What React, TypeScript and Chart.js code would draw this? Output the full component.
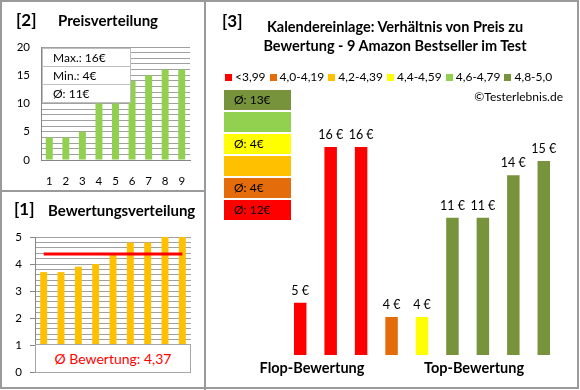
import React, { useEffect, useRef } from 'react';
import { Chart, registerables } from 'chart.js';
Chart.register(...registerables);

const FONT = 'Lato, "Noto Sans", sans-serif';
Chart.defaults.font.family = FONT;
Chart.defaults.color = '#000';

// ---- Panel [2] Preisverteilung ----
const priceCategories = ['1', '2', '3', '4', '5', '6', '7', '8', '9'];
const priceSorted = [4, 4, 5, 10, 10, 14, 15, 16, 16];
const priceTicks = [0, 5, 10, 15, 20];

// ---- Panel [1] Bewertungsverteilung ----
const ratingCategories = ['1', '2', '3', '4', '5', '6', '7', '8', '9'];
const ratings = [3.7, 3.7, 3.9, 4.0, 4.4, 4.8, 4.8, 5.0, 5.0];
const ratingTicks = [0, 1, 2, 3, 4, 5];

// ---- Panel [3] Preis vs. Bewertung ----
const products = ['P1', 'P2', 'P3', 'P4', 'P5', 'P6', 'P7', 'P8', 'P9'];
const productPrices = [5, 16, 16, 4, 4, 11, 11, 14, 15];
const productRatings = [3.7, 3.7, 3.9, 4.0, 4.4, 4.8, 4.8, 5.0, 5.0];
const binLabels = ['<3,99', '4,0-4,19', '4,2-4,39', '4,4-4,59', '4,6-4,79', '4,8-5,0'];
const binLower = [0, 4.0, 4.2, 4.4, 4.6, 4.8];
const binColors = ['#FF0000', '#E46C0A', '#FFC000', '#FFFF00', '#92D050', '#77933C'];
const groupLabels = ['Flop-Bewertung', 'Top-Bewertung'];

const binOf = (r: number) => {
  let idx = 0;
  binLower.forEach((lo, i) => { if (r >= lo - 1e-9) idx = i; });
  return idx;
};

const avgRating = ratings.reduce((a, b) => a + b, 0) / ratings.length;
const avgPrice = productPrices.reduce((a, b) => a + b, 0) / productPrices.length;
const maxPrice = Math.max(...priceSorted);
const minPrice = Math.min(...priceSorted);

const binAvg = binLabels.map((_, b) => {
  const vals = productPrices.filter((_, i) => binOf(productRatings[i]) === b);
  return vals.length ? Math.round(vals.reduce((a, c) => a + c, 0) / vals.length) : null;
});

const isInt = (v: number) => Math.abs(v - Math.round(v)) < 1e-6;

const valueLabels = {
  id: 'valueLabels',
  afterDatasetsDraw(chart: any) {
    const ctx = chart.ctx;
    const meta = chart.getDatasetMeta(0);
    ctx.save();
    ctx.font = `12.5px ${FONT}`;
    ctx.fillStyle = '#000';
    ctx.textAlign = 'center';
    ctx.textBaseline = 'alphabetic';
    meta.data.forEach((el: any, i: number) => {
      ctx.fillText(`${Math.round(productPrices[i])} €`, el.x, el.y - 8);
    });
    ctx.restore();
  },
};

const abs = (extra: React.CSSProperties): React.CSSProperties => ({
  position: 'absolute',
  whiteSpace: 'nowrap',
  fontFamily: FONT,
  color: '#000',
  ...extra,
});

export default function App() {
  const c1 = useRef<HTMLCanvasElement>(null);
  const c2 = useRef<HTMLCanvasElement>(null);
  const c3 = useRef<HTMLCanvasElement>(null);

  useEffect(() => {
    const grid = '#A0A0A0';
    const axis = '#868686';
    const chart2 = new Chart(c2.current!, {
      type: 'bar',
      data: {
        labels: priceCategories,
        datasets: [{ data: priceSorted, backgroundColor: '#92D050', categoryPercentage: 1, barPercentage: 0.42 }],
      },
      options: {
        responsive: false,
        animation: false,
        events: [],
        layout: { padding: { left: 0, top: 47, right: 390, bottom: 200 } },
        plugins: { legend: { display: false }, tooltip: { enabled: false } },
        scales: {
          x: {
            grid: { display: false, drawTicks: false },
            border: { color: axis },
            ticks: { padding: 14, font: { size: 11.5 } },
            afterFit: (s: any) => { s.height = 30; },
          },
          y: {
            min: 0,
            max: 20,
            ticks: {
              stepSize: 1,
              autoSkip: false,
              padding: 11,
              font: { size: 11.5 },
              callback: (v: any) => (priceTicks.includes(Number(v)) ? String(v) : ''),
            },
            grid: { color: grid, drawTicks: false },
            border: { color: axis },
            afterFit: (s: any) => { s.width = 41; },
          },
        },
      },
    } as any);

    const chart1 = new Chart(c1.current!, {
      type: 'bar',
      data: {
        labels: ratingCategories,
        datasets: [
          {
            type: 'line',
            data: ratings.map(() => avgRating),
            borderColor: '#FF0000',
            borderWidth: 3,
            pointRadius: 0,
            order: 0,
          },
          {
            type: 'bar',
            data: ratings,
            backgroundColor: '#FFC000',
            categoryPercentage: 1,
            barPercentage: 0.4,
            order: 1,
          },
        ],
      },
      options: {
        responsive: false,
        animation: false,
        events: [],
        layout: { padding: { left: 0, top: 237, right: 389, bottom: 18 } },
        plugins: { legend: { display: false }, tooltip: { enabled: false } },
        scales: {
          x: { display: false },
          y: {
            min: 0,
            max: 5,
            ticks: {
              stepSize: 0.2,
              autoSkip: false,
              padding: 8,
              font: { size: 11.5 },
              callback: (v: any) => (isInt(Number(v)) && ratingTicks.includes(Math.round(Number(v))) ? String(Math.round(Number(v))) : ''),
            },
            grid: {
              color: grid,
              drawTicks: true,
              tickLength: 5,
              tickColor: (ctx: any) => (ctx.tick && isInt(ctx.tick.value) ? axis : 'rgba(0,0,0,0)'),
            },
            border: { color: axis },
            afterFit: (s: any) => { s.width = 35; },
          },
        },
      },
    } as any);

    const chart3 = new Chart(c3.current!, {
      type: 'bar',
      data: {
        labels: products,
        datasets: [
          {
            data: productPrices,
            backgroundColor: productRatings.map((r) => binColors[binOf(r)]),
            categoryPercentage: 1,
            barPercentage: 0.41,
          },
        ],
      },
      options: {
        responsive: false,
        animation: false,
        events: [],
        layout: { padding: { left: 285, top: 120, right: 21, bottom: 35 } },
        plugins: { legend: { display: false }, tooltip: { enabled: false } },
        scales: {
          x: { display: false },
          y: { display: false, min: 1.32, max: 17.9 },
        },
      },
      plugins: [valueLabels],
    } as any);

    return () => {
      chart1.destroy();
      chart2.destroy();
      chart3.destroy();
    };
  }, []);

  const canvasStyle: React.CSSProperties = { position: 'absolute', left: 0, top: 0, width: 580, height: 390 };
  const line = '#9A9A9A';
  const boxOrder = [5, 4, 3, 2, 1, 0];

  return (
    <div style={{ position: 'absolute', left: 0, top: 0, width: 580, height: 390, background: '#fff', overflow: 'hidden' }}>
      <canvas ref={c2} width={580} height={390} style={canvasStyle} />
      <canvas ref={c1} width={580} height={390} style={canvasStyle} />
      <canvas ref={c3} width={580} height={390} style={canvasStyle} />

      {/* frame */}
      <div style={{ position: 'absolute', left: 0, top: 0, width: 579, height: 389, border: `2px solid ${line}`, boxSizing: 'border-box' }} />
      <div style={{ position: 'absolute', left: 204, top: 0, width: 2, height: 390, background: line }} />
      <div style={{ position: 'absolute', left: 0, top: 190, width: 205, height: 2, background: line }} />

      {/* panel 2 */}
      <div style={abs({ left: 16, top: 11, fontSize: 17, fontWeight: 700, lineHeight: '18px' })}>[2]</div>
      <div style={abs({ left: 58, top: 12, fontSize: 15, fontWeight: 700, lineHeight: '16px' })}>Preisverteilung</div>
      <div style={{ position: 'absolute', left: 42, top: 48, width: 89, height: 55, border: '1px solid #BFBFBF', background: '#fff', boxSizing: 'border-box' }}>
        {[`Max.: ${maxPrice}€`, `Min.: ${minPrice}€`, `Ø: ${Math.round(avgPrice)}€`].map((t, i) => (
          <div
            key={i}
            style={{
              height: 18,
              lineHeight: '18px',
              fontFamily: FONT,
              fontSize: 12,
              paddingLeft: 10,
              borderBottom: i < 2 ? '1px solid #BFBFBF' : 'none',
              boxSizing: 'border-box',
              whiteSpace: 'nowrap',
            }}
          >
            {t}
          </div>
        ))}
      </div>

      {/* panel 1 */}
      <div style={abs({ left: 14, top: 200, fontSize: 17, fontWeight: 700, lineHeight: '18px' })}>[1]</div>
      <div style={abs({ left: 48, top: 202, fontSize: 15, fontWeight: 700, lineHeight: '16px' })}>Bewertungsverteilung</div>
      <div
        style={abs({
          left: 35,
          top: 344,
          width: 156,
          height: 29,
          border: '1px solid #A6A6A6',
          background: '#fff',
          boxSizing: 'border-box',
          textAlign: 'center',
          lineHeight: '27px',
          fontSize: 14,
          color: '#FF0000',
        })}
      >
        {`Ø Bewertung: ${avgRating.toFixed(2).replace('.', ',')}`}
      </div>

      {/* panel 3 */}
      <div style={abs({ left: 222, top: 12, fontSize: 17, fontWeight: 700, lineHeight: '18px' })}>[3]</div>
      <div style={abs({ left: 245, top: 17, width: 300, textAlign: 'center', fontSize: 14.5, fontWeight: 700, lineHeight: '19px' })}>
        Kalendereinlage: Verhältnis von Preis zu
        <br />
        Bewertung - 9 Amazon Bestseller im Test
      </div>
      <div style={abs({ left: 225, top: 70, height: 14, display: 'flex', alignItems: 'center', fontSize: 12, lineHeight: '14px' })}>
        {binLabels.map((l, i) => (
          <div key={i} style={{ display: 'flex', alignItems: 'center', marginRight: 4 }}>
            <span style={{ display: 'inline-block', width: 7, height: 7, background: binColors[i], marginRight: 3 }} />
            <span>{l}</span>
          </div>
        ))}
      </div>
      <div style={abs({ right: 17, top: 90, fontSize: 12, lineHeight: '14px' })}>©Testerlebnis.de</div>

      {boxOrder.map((b, k) => (
        <div
          key={b}
          style={abs({
            left: 224,
            top: 90 + k * 22,
            width: 67,
            height: 20,
            background: binColors[b],
            fontSize: 12,
            lineHeight: '20px',
            paddingLeft: 10,
            boxSizing: 'border-box',
          })}
        >
          {binAvg[b] !== null ? `Ø: ${binAvg[b]}€` : ''}
        </div>
      ))}

      <div style={abs({ left: 232, top: 360, width: 160, textAlign: 'center', fontSize: 14.5, fontWeight: 700, lineHeight: '16px' })}>{groupLabels[0]}</div>
      <div style={abs({ left: 394, top: 360, width: 160, textAlign: 'center', fontSize: 14.5, fontWeight: 700, lineHeight: '16px' })}>{groupLabels[1]}</div>
    </div>
  );
}
